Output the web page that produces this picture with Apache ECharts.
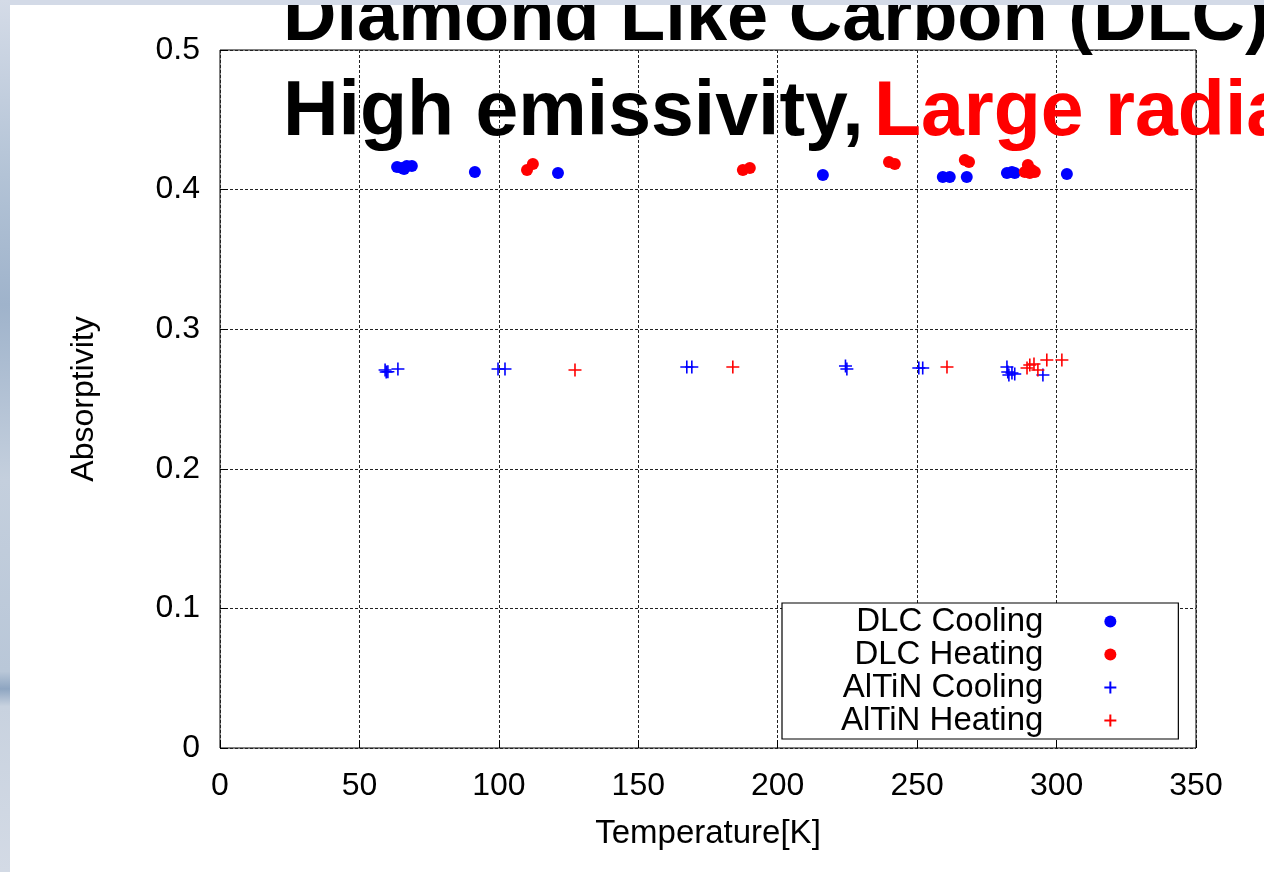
<!DOCTYPE html>
<html><head><meta charset="utf-8">
<script src="https://cdn.jsdelivr.net/npm/echarts@6/dist/echarts.min.js"></script>
<style>html,body{margin:0;padding:0;background:#fff}#c{width:1264px;height:872px}</style>
</head><body><div id="c"></div>
<script>
const xTickValues = [0, 50, 100, 150, 200, 250, 300, 350];
const yTickLabels = ['0', '0.1', '0.2', '0.3', '0.4', '0.5'];
const seriesNames = ['DLC Cooling', 'DLC Heating', 'AlTiN Cooling', 'AlTiN Heating'];

const dlcCoolingT = [63.5, 65.3, 66.0, 67.0, 68.8, 91.4, 121.2, 216.2, 259.2, 261.7, 267.8, 282.2, 284.0, 285.0, 303.7];
const dlcCoolingA = [0.4162, 0.4155, 0.4148, 0.4169, 0.4169, 0.4126, 0.4119, 0.4105, 0.4090, 0.4090, 0.4090, 0.4119, 0.4126, 0.4119, 0.4112];

const dlcHeatingT = [110.1, 112.2, 187.5, 190.0, 239.9, 242.0, 267.1, 268.6, 288.6, 289.7, 290.4, 291.1, 292.2];
const dlcHeatingA = [0.4140, 0.4183, 0.4140, 0.4155, 0.4198, 0.4183, 0.4212, 0.4198, 0.4126, 0.4176, 0.4119, 0.4140, 0.4126];

const altinCoolingT = [59.2, 59.6, 60.2, 63.8, 99.7, 102.2, 167.4, 169.2, 224.3, 224.8, 250.6, 252.0, 282.2, 282.5, 282.9, 284.0, 285.0, 295.1];
const altinCoolingA = [0.2708, 0.2693, 0.2695, 0.2715, 0.2715, 0.2715, 0.2729, 0.2729, 0.2736, 0.2715, 0.2722, 0.2722, 0.2729, 0.2693, 0.2672, 0.2686, 0.2679, 0.2672];

const altinHeatingT = [127.3, 183.9, 260.7, 289.4, 290.4, 291.9, 293.3, 296.5, 301.9];
const altinHeatingA = [0.2708, 0.2729, 0.2729, 0.2722, 0.2744, 0.2751, 0.2708, 0.2779, 0.2779];

const titleLine1 = 'Diamond Like Carbon (DLC)';
const titleLine2a = 'High emissivity,';
const titleLine2b = 'Large radiation';

const FONT = '"Liberation Sans", Arial, sans-serif';
const PLUS = 'path://M0,6H12M6,0V12';

function pairs(xs, ys) { return xs.map((x, i) => [x, ys[i]]); }

const chart = echarts.init(document.getElementById('c'), null, {renderer: 'canvas'});
chart.setOption({
  backgroundColor: '#ffffff',
  animation: false,
  textStyle: {fontFamily: FONT},
  grid: {left: 220, top: 50, right: 68, bottom: 124, show: true, borderColor: '#000', borderWidth: 1, backgroundColor: 'transparent'},
  xAxis: {
    type: 'value', min: 0, max: 350, interval: 50,
    name: 'Temperature[K]', nameLocation: 'middle', nameGap: 69,
    nameTextStyle: {fontSize: 33, color: '#000', fontFamily: FONT},
    axisLine: {show: false},
    axisTick: {show: true, inside: true, length: 8, lineStyle: {color: '#000'}},
    axisLabel: {fontSize: 32, color: '#000', margin: 22, fontFamily: FONT,
      formatter: v => String(xTickValues[xTickValues.indexOf(v)])},
    splitLine: {show: true, lineStyle: {color: '#222', width: 1, type: [3, 2]}}
  },
  yAxis: {
    type: 'value', min: 0, max: 0.5, interval: 0.1,
    name: 'Absorptivity', nameLocation: 'middle', nameGap: 120, nameRotate: 90,
    nameTextStyle: {fontSize: 32, color: '#000', fontFamily: FONT},
    axisLine: {show: false},
    axisTick: {show: true, inside: true, length: 8, lineStyle: {color: '#000'}},
    axisLabel: {fontSize: 32, color: '#000', margin: 20, fontFamily: FONT,
      formatter: v => yTickLabels[Math.round(v * 10)]},
    splitLine: {show: true, lineStyle: {color: '#222', width: 1, type: [3, 2]}}
  },
  legend: {
    orient: 'vertical', align: 'right', left: 782, top: 603,
    padding: [2, 61, 2, 59], itemGap: 0, itemWidth: 124, itemHeight: 12,
    backgroundColor: '#fff', borderColor: '#000', borderWidth: 1.2,
    selectedMode: false,
    textStyle: {fontSize: 33, color: '#000', fontFamily: FONT},
    data: [
      {name: seriesNames[0], icon: 'circle'},
      {name: seriesNames[1], icon: 'circle'},
      {name: seriesNames[2], icon: PLUS},
      {name: seriesNames[3], icon: PLUS}
    ]
  },
  graphic: [
    {type: 'text', z: 50, x: 283, y: 20, style: {text: titleLine1, font: 'bold 74px ' + FONT, fill: '#000', verticalAlign: 'middle'}},
    {type: 'text', z: 50, x: 283, y: 114, style: {text: titleLine2a, font: 'bold 77px ' + FONT, fill: '#000', verticalAlign: 'middle'}},
    {type: 'text', z: 50, x: 874, y: 114, style: {text: titleLine2b, font: 'bold 77px ' + FONT, fill: '#ff0000', verticalAlign: 'middle'}},
    {type: 'rect', z: 100, shape: {x: 0, y: 0, width: 1264, height: 5}, style: {fill: '#d3dae7'}},
    {type: 'rect', z: 100, shape: {x: 0, y: 0, width: 10, height: 872}, style: {
      fill: new echarts.graphic.LinearGradient(0, 0, 0, 1, [
        {offset: 0, color: '#d4dbe7'},
        {offset: 0.2, color: '#b3c3d6'},
        {offset: 0.35, color: '#9fb3cb'},
        {offset: 0.55, color: '#c4cfdd'},
        {offset: 0.77, color: '#b9c7d8'},
        {offset: 0.79, color: '#8ea5c1'},
        {offset: 0.81, color: '#c8d2df'},
        {offset: 1, color: '#d3dae5'}
      ])}}
  ],
  series: [
    {name: seriesNames[0], type: 'scatter', symbol: 'circle', symbolSize: 12,
      itemStyle: {color: '#0000ff', opacity: 1}, data: pairs(dlcCoolingT, dlcCoolingA)},
    {name: seriesNames[1], type: 'scatter', symbol: 'circle', symbolSize: 12,
      itemStyle: {color: '#ff0000', opacity: 1}, data: pairs(dlcHeatingT, dlcHeatingA)},
    {name: seriesNames[2], type: 'scatter', symbol: PLUS, symbolSize: 13,
      itemStyle: {color: 'rgba(0,0,0,0)', borderColor: '#0000ff', borderWidth: 1.6, opacity: 1}, data: pairs(altinCoolingT, altinCoolingA)},
    {name: seriesNames[3], type: 'scatter', symbol: PLUS, symbolSize: 13,
      itemStyle: {color: 'rgba(0,0,0,0)', borderColor: '#ff0000', borderWidth: 1.6, opacity: 1}, data: pairs(altinHeatingT, altinHeatingA)}
  ]
});
</script>
</body></html>
